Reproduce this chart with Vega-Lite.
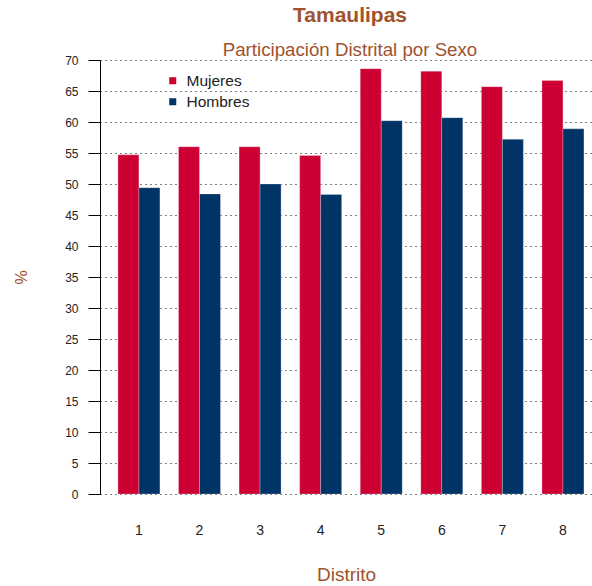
{
  "$schema": "https://vega.github.io/schema/vega-lite/v6.json",
  "width": 492,
  "height": 434,
  "autosize": {"type": "none"},
  "padding": {"left": 100, "top": 60, "right": 0, "bottom": 92},
  "background": "white",
  "title": {
    "text": "Tamaulipas",
    "subtitle": "Participación Distrital por Sexo",
    "anchor": "middle",
    "frame": "group",
    "font": "Liberation Sans",
    "fontSize": 21,
    "fontWeight": "bold",
    "color": "#A0522D",
    "subtitleFont": "Liberation Sans",
    "subtitleFontSize": 18.7,
    "subtitleColor": "#A0522D",
    "subtitlePadding": 15,
    "offset": -6,
    "dx": 4
  },
  "data": {
    "values": [
      {"Distrito": "1", "Sexo": "Mujeres", "Valor": 54.7},
      {"Distrito": "1", "Sexo": "Hombres", "Valor": 49.4},
      {"Distrito": "2", "Sexo": "Mujeres", "Valor": 56.0},
      {"Distrito": "2", "Sexo": "Hombres", "Valor": 48.4},
      {"Distrito": "3", "Sexo": "Mujeres", "Valor": 56.0},
      {"Distrito": "3", "Sexo": "Hombres", "Valor": 50.0},
      {"Distrito": "4", "Sexo": "Mujeres", "Valor": 54.6},
      {"Distrito": "4", "Sexo": "Hombres", "Valor": 48.3},
      {"Distrito": "5", "Sexo": "Mujeres", "Valor": 68.6},
      {"Distrito": "5", "Sexo": "Hombres", "Valor": 60.2},
      {"Distrito": "6", "Sexo": "Mujeres", "Valor": 68.2},
      {"Distrito": "6", "Sexo": "Hombres", "Valor": 60.7},
      {"Distrito": "7", "Sexo": "Mujeres", "Valor": 65.7},
      {"Distrito": "7", "Sexo": "Hombres", "Valor": 57.2},
      {"Distrito": "8", "Sexo": "Mujeres", "Valor": 66.7},
      {"Distrito": "8", "Sexo": "Hombres", "Valor": 58.9}
    ]
  },
  "mark": {"type": "bar", "stroke": "white", "strokeOpacity": 0.5, "strokeWidth": 0.5},
  "encoding": {
    "x": {
      "field": "Distrito",
      "type": "nominal",
      "scale": {"paddingInner": 0.307, "paddingOuter": 0.2146, "align": 0.69},
      "axis": {
        "domain": false,
        "ticks": false,
        "labelAngle": 0,
        "labelFont": "Liberation Sans",
        "labelFontSize": 14,
        "labelColor": "#222222",
        "labelPadding": 29,
        "title": "Distrito",
        "titleFont": "Liberation Sans",
        "titleFontSize": 19,
        "titleFontWeight": "normal",
        "titleColor": "#A0522D",
        "titlePadding": 28,
        "grid": false
      }
    },
    "xOffset": {
      "field": "Sexo",
      "type": "nominal",
      "sort": ["Mujeres", "Hombres"],
      "scale": {"paddingInner": 0, "paddingOuter": 0}
    },
    "y": {
      "field": "Valor",
      "type": "quantitative",
      "scale": {"domain": [0, 70], "nice": false},
      "axis": {
        "values": [0, 5, 10, 15, 20, 25, 30, 35, 40, 45, 50, 55, 60, 65, 70],
        "grid": true,
        "gridColor": "black",
        "gridDash": [1, 4],
        "gridWidth": 1,
        "domainColor": "black",
        "domainWidth": 1,
        "tickColor": "black",
        "tickSize": 12,
        "tickWidth": 1,
        "labelFont": "Liberation Sans",
        "labelFontSize": 12,
        "labelColor": "#222222",
        "labelPadding": 10,
        "title": "%",
        "titleFont": "Liberation Sans",
        "titleFontSize": 16,
        "titleFontWeight": "normal",
        "titleColor": "#A0522D",
        "titlePadding": 35
      }
    },
    "color": {
      "field": "Sexo",
      "type": "nominal",
      "sort": ["Mujeres", "Hombres"],
      "scale": {"domain": ["Mujeres", "Hombres"], "range": ["#CC0033", "#003366"]},
      "legend": {
        "orient": "none",
        "legendX": 65,
        "legendY": 13,
        "title": null,
        "symbolType": "square",
        "symbolSize": 49,
        "symbolStrokeWidth": 0,
        "labelFont": "Liberation Sans",
        "labelFontSize": 15.5,
        "labelColor": "#222222",
        "rowPadding": 4,
        "labelOffset": 6
      }
    }
  },
  "config": {"view": {"stroke": null}}
}
